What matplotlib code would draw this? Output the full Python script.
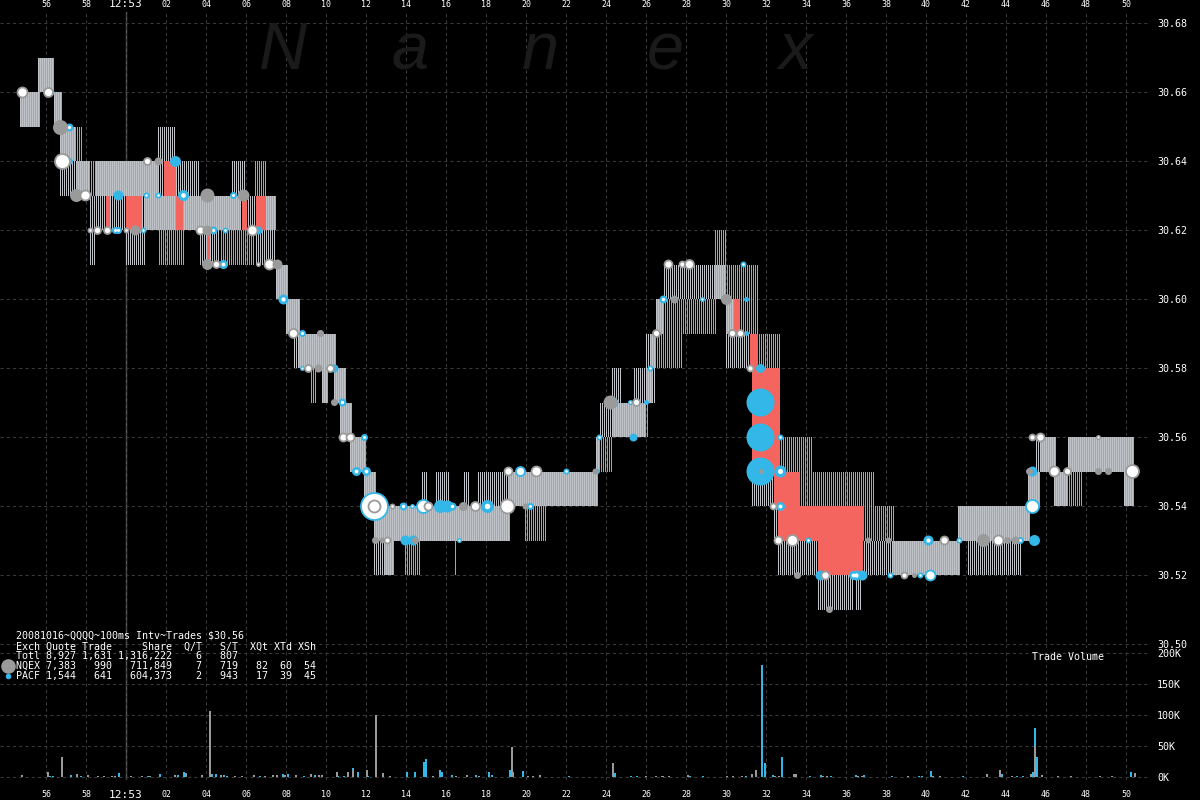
import numpy as np
import matplotlib
matplotlib.use("Agg")
import matplotlib.pyplot as plt
from matplotlib.colors import to_rgba

plt.rcParams['font.family'] = ['DejaVu Sans Mono']

# time is seconds relative to 12:53:00, prices in dollars
time_ticks = list(range(-4, 51, 2))
time_labels = ["56", "58", "12:53", "02", "04", "06", "08", "10", "12", "14", "16", "18", "20",
               "22", "24", "26", "28", "30", "32", "34", "36", "38", "40", "42", "44", "46", "48", "50"]
price_ticks = [30.50, 30.52, 30.54, 30.56, 30.58, 30.60, 30.62, 30.64, 30.66, 30.68]
vol_ticks = [0, 50000, 100000, 150000, 200000]
vol_labels = ["0K", "50K", "100K", "150K", "200K"]

# quote spreads per exchange: (start s, end s, bid, ask)
nqex_quotes = [
    (-5.3, -4.3, 30.65, 30.66), (-4.4, -3.6, 30.66, 30.67), (-3.6, -3.2, 30.65, 30.66),
    (-3.3, -2.5, 30.63, 30.65), (-2.5, -1.8, 30.63, 30.64), (-1.8, -1.5, 30.61, 30.63),
    (-1.5, 0.0, 30.62, 30.64), (0.0, 0.95, 30.61, 30.64), (0.95, 1.6, 30.62, 30.64),
    (1.6, 2.45, 30.62, 30.65), (2.45, 3.7, 30.62, 30.64), (3.7, 4.7, 30.61, 30.63),
    (4.7, 5.3, 30.62, 30.63), (5.3, 5.95, 30.62, 30.64), (5.95, 6.5, 30.62, 30.63),
    (6.5, 7.5, 30.61, 30.63), (7.5, 8.1, 30.60, 30.61), (8.0, 8.4, 30.59, 30.60),
    (8.4, 8.7, 30.58, 30.60), (8.7, 10.5, 30.58, 30.59), (9.8, 10.1, 30.57, 30.58),
    (10.4, 11.0, 30.57, 30.58), (10.7, 11.3, 30.56, 30.57), (11.2, 12.0, 30.55, 30.56),
    (11.9, 12.5, 30.54, 30.55), (12.4, 13.4, 30.52, 30.54), (13.4, 19.2, 30.53, 30.54),
    (14.8, 15.1, 30.54, 30.55), (15.5, 16.2, 30.54, 30.55), (16.9, 17.2, 30.54, 30.55),
    (17.6, 19.2, 30.54, 30.55), (19.1, 23.6, 30.54, 30.55), (23.5, 23.7, 30.55, 30.56),
    (23.7, 24.3, 30.56, 30.57), (24.3, 24.8, 30.56, 30.58), (24.8, 25.4, 30.56, 30.57),
    (25.4, 26.0, 30.56, 30.58), (26.0, 26.5, 30.57, 30.59), (26.5, 26.9, 30.59, 30.60),
    (26.9, 29.5, 30.60, 30.61), (29.5, 30.0, 30.60, 30.61), (30.0, 30.4, 30.58, 30.60),
    (30.4, 31.3, 30.58, 30.59), (31.3, 32.4, 30.54, 30.55), (32.4, 32.6, 30.53, 30.54),
    (32.6, 34.6, 30.52, 30.53), (34.6, 36.4, 30.51, 30.52), (36.4, 38.3, 30.52, 30.53),
    (36.5, 36.8, 30.51, 30.52), (38.3, 41.7, 30.52, 30.53), (41.6, 45.2, 30.53, 30.54),
    (42.1, 44.8, 30.52, 30.53), (45.1, 45.7, 30.54, 30.55), (45.45, 45.7, 30.55, 30.56),
    (45.7, 46.5, 30.55, 30.56), (46.4, 47.1, 30.54, 30.55), (47.1, 50.4, 30.55, 30.56),
    (49.9, 50.4, 30.54, 30.55),
]
pacf_quotes = [
    (-5.3, -4.3, 30.65, 30.66), (-4.4, -3.6, 30.66, 30.67), (-3.6, -3.2, 30.65, 30.66),
    (-3.3, -2.2, 30.64, 30.65), (-2.5, 0.9, 30.63, 30.64), (0.9, 1.6, 30.62, 30.64),
    (1.6, 2.9, 30.61, 30.63), (2.9, 4.7, 30.62, 30.63), (4.7, 5.7, 30.61, 30.63),
    (5.7, 6.4, 30.61, 30.62), (6.4, 7.0, 30.63, 30.64), (7.0, 7.5, 30.62, 30.63),
    (7.5, 8.1, 30.60, 30.61), (8.0, 8.7, 30.59, 30.60), (8.6, 10.5, 30.58, 30.59),
    (9.2, 9.5, 30.57, 30.58), (9.8, 10.1, 30.57, 30.58), (10.4, 11.0, 30.57, 30.58),
    (10.7, 11.3, 30.56, 30.57), (11.2, 12.0, 30.55, 30.56), (11.9, 12.5, 30.54, 30.55),
    (12.4, 19.2, 30.53, 30.54), (12.9, 13.4, 30.52, 30.53), (13.95, 14.7, 30.52, 30.53),
    (16.4, 16.5, 30.52, 30.53), (19.1, 23.6, 30.54, 30.55), (19.95, 21.0, 30.53, 30.54),
    (23.5, 24.3, 30.55, 30.56), (24.3, 26.1, 30.56, 30.57), (26.0, 26.3, 30.57, 30.58),
    (26.2, 27.8, 30.58, 30.59), (26.5, 29.5, 30.59, 30.60), (29.45, 30.05, 30.60, 30.62),
    (30.05, 31.6, 30.59, 30.61), (31.6, 32.7, 30.58, 30.59), (32.7, 34.3, 30.55, 30.56),
    (33.7, 37.4, 30.54, 30.55), (36.9, 38.4, 30.53, 30.54), (38.3, 41.7, 30.52, 30.53),
    (41.6, 45.2, 30.53, 30.54), (45.1, 45.7, 30.54, 30.55), (45.7, 46.5, 30.55, 30.56),
    (46.4, 47.8, 30.54, 30.55), (47.1, 50.4, 30.55, 30.56), (49.9, 50.4, 30.54, 30.55),
]
# crossed-market gaps (red): (start, end, low, high)
crossed = [
    (-1.0, -0.8, 30.62, 30.63), (0.0, 0.8, 30.62, 30.63), (1.9, 2.5, 30.63, 30.64),
    (2.5, 2.85, 30.62, 30.63), (4.05, 4.2, 30.61, 30.62), (5.8, 6.05, 30.62, 30.63),
    (6.5, 7.0, 30.62, 30.63), (30.4, 30.7, 30.59, 30.60), (31.2, 31.6, 30.58, 30.59),
    (31.3, 32.7, 30.55, 30.58), (32.4, 33.7, 30.54, 30.55), (32.6, 36.9, 30.53, 30.54),
    (34.6, 36.85, 30.52, 30.53),
]

# trades: (time, price, dot size px, style) style: s=solid, c=white centre, r=white ring
nqex_trades = [
    (-5.22, 30.66, 10, 'r'), (-3.88, 30.66, 9, 'r'), (-3.3, 30.65, 15, 's'), (-3.22, 30.64, 15, 'r'),
    (-2.5, 30.63, 13, 's'), (-2.05, 30.63, 10, 'r'), (-1.8, 30.62, 6, 'c'), (-1.47, 30.62, 7, 'r'),
    (-0.97, 30.62, 7, 'r'), (0.0, 30.62, 6, 'c'), (0.45, 30.62, 10, 's'), (1.03, 30.64, 7, 'r'),
    (1.62, 30.64, 8, 's'), (4.07, 30.63, 14, 's'), (5.87, 30.63, 12, 's'), (3.7, 30.62, 8, 'r'),
    (4.07, 30.62, 10, 's'), (6.28, 30.62, 10, 'r'), (4.07, 30.61, 11, 's'), (4.5, 30.61, 7, 'r'),
    (6.62, 30.61, 5, 'c'), (7.17, 30.61, 10, 'r'), (7.53, 30.61, 10, 's'), (8.37, 30.59, 9, 'r'),
    (9.7, 30.59, 7, 's'), (9.12, 30.58, 7, 'r'), (9.62, 30.58, 8, 's'), (10.2, 30.58, 7, 'r'),
    (10.4, 30.57, 7, 's'), (10.87, 30.56, 8, 'r'), (11.2, 30.56, 8, 'r'), (12.4, 30.54, 12, 'r'),
    (13.28, 30.54, 6, 'c'), (15.12, 30.54, 8, 'r'), (16.87, 30.54, 9, 's'), (17.45, 30.54, 9, 'r'),
    (19.03, 30.54, 14, 'r'), (19.95, 30.54, 6, 's'), (12.45, 30.53, 7, 's'), (12.78, 30.53, 6, 's'),
    (13.03, 30.53, 6, 'r'), (14.45, 30.53, 7, 's'), (19.12, 30.55, 8, 'r'), (20.5, 30.55, 10, 'r'),
    (23.45, 30.55, 6, 's'), (24.2, 30.57, 14, 's'), (25.5, 30.57, 7, 'r'), (26.5, 30.59, 7, 'r'),
    (27.4, 30.60, 8, 's'), (30.0, 30.60, 11, 's'), (27.12, 30.61, 8, 'r'), (27.78, 30.61, 6, 'r'),
    (28.17, 30.61, 9, 'r'), (30.28, 30.59, 7, 'r'), (30.7, 30.59, 7, 'r'), (31.2, 30.58, 6, 'r'),
    (31.75, 30.55, 5, 's'), (32.37, 30.54, 6, 'r'), (32.62, 30.53, 8, 'r'), (33.28, 30.53, 11, 'r'),
    (37.12, 30.53, 6, 's'), (33.57, 30.52, 7, 's'), (34.95, 30.52, 8, 'r'), (35.17, 30.51, 7, 's'),
    (38.12, 30.53, 6, 's'), (38.9, 30.52, 6, 'r'), (39.4, 30.52, 5, 's'), (40.9, 30.53, 8, 'r'),
    (42.87, 30.53, 13, 's'), (43.62, 30.53, 10, 'r'), (44.03, 30.53, 7, 's'), (44.45, 30.53, 8, 's'),
    (45.15, 30.55, 7, 's'), (46.4, 30.55, 10, 'r'), (47.07, 30.55, 7, 'r'), (45.28, 30.56, 6, 'r'),
    (45.7, 30.56, 8, 'r'), (48.58, 30.56, 5, 'c'), (48.58, 30.55, 7, 's'), (49.12, 30.55, 7, 's'),
    (50.28, 30.55, 13, 'r'),
]
pacf_trades = [
    (-3.77, 30.66, 6, 'c'), (-2.83, 30.65, 8, 'c'), (-2.83, 30.64, 7, 'c'), (-0.55, 30.62, 7, 'c'),
    (-0.38, 30.62, 7, 'c'), (0.87, 30.62, 6, 'c'), (2.45, 30.64, 11, 's'), (-0.38, 30.63, 10, 's'),
    (1.0, 30.63, 6, 'c'), (1.62, 30.63, 6, 'c'), (2.87, 30.63, 11, 'c'), (5.37, 30.63, 7, 'c'),
    (4.37, 30.62, 8, 'c'), (4.95, 30.62, 6, 'c'), (6.62, 30.62, 8, 's'), (4.87, 30.61, 9, 'c'),
    (7.87, 30.60, 10, 'c'), (8.78, 30.59, 7, 'c'), (8.78, 30.58, 5, 'c'), (10.4, 30.58, 8, 's'),
    (10.78, 30.57, 8, 'c'), (11.9, 30.56, 7, 'c'), (11.5, 30.55, 9, 'c'), (12.0, 30.55, 9, 'c'),
    (12.4, 30.54, 27, 'r'), (13.87, 30.54, 8, 'c'), (14.28, 30.54, 5, 'c'), (14.83, 30.54, 13, 'r'),
    (15.7, 30.54, 13, 's'), (16.03, 30.54, 12, 's'), (16.28, 30.54, 8, 'c'), (18.03, 30.54, 13, 'c'),
    (20.2, 30.54, 7, 'c'), (13.95, 30.53, 10, 's'), (14.37, 30.53, 10, 's'), (16.67, 30.53, 5, 'c'),
    (19.7, 30.55, 9, 'r'), (22.0, 30.55, 6, 'c'), (23.67, 30.56, 6, 'c'), (23.57, 30.55, 5, 's'),
    (24.37, 30.57, 10, 's'), (25.2, 30.57, 5, 'c'), (26.0, 30.57, 5, 's'), (25.33, 30.56, 8, 's'),
    (26.2, 30.58, 6, 'c'), (26.87, 30.60, 8, 'c'), (28.78, 30.60, 5, 'c'), (30.98, 30.60, 5, 's'),
    (30.87, 30.61, 6, 'c'), (30.98, 30.59, 5, 's'), (31.7, 30.58, 9, 's'), (31.7, 30.57, 28, 's'),
    (31.7, 30.56, 28, 's'), (31.7, 30.55, 28, 's'), (32.7, 30.56, 6, 'c'), (32.7, 30.55, 12, 'c'),
    (32.7, 30.54, 9, 'c'), (34.12, 30.53, 6, 'c'), (34.7, 30.52, 10, 's'), (36.37, 30.52, 9, 'c'),
    (36.78, 30.52, 10, 's'), (36.5, 30.52, 10, 'c'), (38.2, 30.52, 6, 'c'), (39.7, 30.52, 6, 'c'),
    (40.2, 30.52, 10, 'r'), (40.08, 30.53, 10, 'c'), (41.67, 30.53, 6, 'c'), (44.7, 30.53, 7, 'c'),
    (45.4, 30.53, 11, 's'), (45.28, 30.54, 13, 'r'), (45.28, 30.55, 10, 's'),
]

# trade volume per 100ms interval
nqex_vol_t = [-5.2, -3.9, -3.22, -2.45, -1.92, -1.4, -1.1, -0.72, -0.53, 0.24, 0.82, 1.2, 2.45, 2.99,
              3.8, 4.18, 4.76, 5.05, 5.43, 5.82, 6.39, 6.97, 7.35, 7.55, 7.93, 8.5, 9.24, 9.66, 9.82,
              10.53, 11.1, 11.35, 12.03, 12.51, 12.83, 13.22, 15.33, 16.49, 17.07, 17.64, 19.28, 19.37,
              20.08, 20.33, 20.68, 24.33, 26.0, 26.49, 26.87, 27.16, 28.12, 30.05, 30.33, 30.82, 31.3,
              31.49, 32.45, 32.64, 33.41, 33.51, 34.85, 35.05, 36.58, 36.78, 39.08, 40.33, 40.72, 43.03,
              43.7, 44.28, 45.24, 45.43, 45.78, 46.58, 47.26, 48.7, 49.28, 50.43]
nqex_vol = [2700, 7500, 32000, 4800, 3200, 1600, 1100, 1100, 1100, 1100, 2200, 1600, 3800, 6500,
            3200, 106000, 2700, 1600, 1100, 1100, 3200, 1600, 2700, 3800, 3200, 3200, 5400, 3800, 3800,
            7500, 8100, 10800, 11800, 100000, 6500, 2200, 1100, 1600, 3200, 2200, 48000, 7500,
            1100, 1100, 3200, 22000, 1100, 2200, 1600, 1100, 3200, 1600, 1600, 1600, 4300,
            11800, 1600, 2200, 5400, 4300, 1600, 1600, 1100, 1600, 1100, 1600, 1100, 5400,
            11800, 1600, 4300, 50000, 3200, 1600, 2200, 1100, 1100, 7000]
pacf_vol_t = [-3.8, -3.67, -2.74, -2.26, -0.34, 1.1, 1.68, 2.58, 2.89, 4.28, 4.51, 4.89, 6.68, 7.83,
              8.08, 8.89, 9.47, 10.62, 10.91, 11.33, 11.58, 12.12, 14.05, 14.43, 14.9, 15.0, 15.72,
              15.82, 16.3, 17.49, 18.16, 18.32, 19.18, 19.85, 22.16, 24.43, 25.24, 25.53, 26.78, 28.22,
              28.85, 31.0, 31.78, 31.97, 32.35, 32.78, 34.18, 34.76, 35.24, 36.49, 36.89, 38.32, 39.66,
              39.82, 40.24, 41.87, 43.82, 44.57, 44.85, 45.33, 45.43, 45.53, 50.24]
pacf_vol = [1600, 1100, 2700, 1600, 6500, 1600, 4800, 2700, 7500, 4800, 4300, 3200, 2200, 4800,
            4300, 1100, 3800, 1100, 1600, 14500, 7500, 2200, 7500, 7500, 25000, 29000, 11800,
            7500, 3200, 3200, 7500, 2700, 11800, 9700, 1100, 6500, 1100, 1100, 2200, 1100,
            1100, 1100, 180000, 22000, 3200, 33000, 1100, 3200, 1100, 3200, 3200, 1100, 1100,
            1100, 9700, 1100, 4300, 1100, 1600, 7500, 79000, 32000, 8000]

title_line = "20081016~QQQQ~100ms Intv~Trades $30.56"
stats_lines = [
    "Exch Quote Trade     Share  Q/T   S/T  XQt XTd XSh",
    "Totl 8,927 1,631 1,316,222    6   807",
    "NQEX 7,383   990   711,849    7   719   82  60  54",
    "PACF 1,544   641   604,373    2   943   17  39  45",
]

GRAY = '#c0c4c8'
BLUE = '#50c4ee'
RED = '#f46560'
T_GRAY = '#9a9a9a'
T_BLUE = '#33b7e8'
GRID = '#3a3a3a'
W, H = 1200, 800
T0, T1 = -6.3, 51.2      # visible time range
P0, P1 = 30.50, 30.68    # price range of the quote raster
STEP_T, STEP_P = 0.05, 0.01

fig = plt.figure(figsize=(12, 8), dpi=100, facecolor='black')
ax = fig.add_axes([0, 1 - 648 / H, 1150 / W, 636 / H])
axv = fig.add_axes([0, 1 - 780 / H, 1150 / W, 130 / H])

for a in (ax, axv):
    a.set_facecolor('black')
    a.set_xlim(T0, T1)
    for s in a.spines.values():
        s.set_visible(False)
    a.grid(True, color=GRID, linestyle=(0, (3, 3)), linewidth=0.75)
    a.set_axisbelow(True)
    a.axvline(0, color='#5c5c5c', lw=1, zorder=0.5)
    a.yaxis.tick_right()
    a.tick_params(axis='y', length=0, pad=5, labelcolor='white', labelsize=7.2)
    a.set_xticks(time_ticks)
    a.tick_params(axis='x', length=0, labelcolor='white', labelsize=6)

ax.set_ylim(30.4988, 30.6832)
ax.set_yticks(price_ticks)
ax.set_yticklabels([f"{p:.2f}" for p in price_ticks])
ax.xaxis.tick_top()
ax.set_xticklabels(time_labels)
ax.tick_params(axis='x', pad=2)

axv.set_ylim(-4800, 204800)
axv.set_yticks(vol_ticks)
axv.set_yticklabels(vol_labels)
axv.set_xticklabels(time_labels)
axv.tick_params(axis='x', pad=7)
for a in (ax, axv):
    for lbl in a.get_xticklabels():
        if lbl.get_text() == "12:53":
            lbl.set_fontsize(8)

# watermark
for ch, xp in zip("Nanex", [283, 410, 540, 665, 795]):
    fig.text(xp / W, 1 - 52 / H, ch, color='#1a1a1a', fontsize=48, style='italic',
             family='Liberation Sans', ha='center', va='center', zorder=0)

# quote raster: one column per half interval (gray on even, blue on odd), one row per cent
ncol = int(round((T1 - T0) / STEP_T))
nrow = int(round((P1 - P0) / STEP_P))
img = np.zeros((nrow, ncol, 4))


def col(t):
    return int(round((t - T0) / STEP_T))


def row(p):
    return int(round((p - P0) / STEP_P))


def paint(quotes, color, parity):
    for t0, t1, bid, ask in quotes:
        c0, c1 = col(t0), col(t1)
        cols = [c for c in range(c0, c1) if c % 2 == parity]
        img[row(bid):row(ask), cols] = to_rgba(color)


paint(nqex_quotes, GRAY, 0)
paint(pacf_quotes, BLUE, 1)
for t0, t1, lo, hi in crossed:
    img[row(lo):row(hi), col(t0):col(t1)] = to_rgba(RED)

ax.imshow(img, extent=(T0, T1, P0, P1), origin='lower', interpolation='nearest',
          aspect='auto', zorder=2)
ax.set_xlim(T0, T1)
ax.set_ylim(30.4988, 30.6832)


def trades(items, color, z):
    for t, p, d, style in items:
        s = (d * 0.72) ** 2
        if style == 'r':
            ax.scatter(t, p, s=s, facecolor='white', edgecolor=color, linewidths=1.3, zorder=z)
        else:
            ax.scatter(t, p, s=s, color=color, linewidths=0, zorder=z)
            if style == 'c':
                ax.scatter(t, p, s=s * 0.18, color='white', linewidths=0, zorder=z + 0.05)


trades(pacf_trades, T_BLUE, 4)
trades(nqex_trades, T_GRAY, 4.2)

axv.bar(pacf_vol_t, pacf_vol, width=0.1, color=T_BLUE, linewidth=0, zorder=2)
axv.bar(nqex_vol_t, nqex_vol, width=0.1, color=T_GRAY, linewidth=0, zorder=2.1)

# stats block
fig.text(16 / W, 1 - 636 / H, title_line, color='white', fontsize=7.2, va='center')
for i, line in enumerate(stats_lines):
    fig.text(16 / W, 1 - (646.5 + i * 9.7) / H, line, color='white', fontsize=7.2, va='center')
axv.plot([8 / W], [1 - 666 / H], 'o', ms=9.5, color=T_GRAY, transform=fig.transFigure, clip_on=False)
axv.plot([8 / W], [1 - 676 / H], 'o', ms=3, color=T_BLUE, transform=fig.transFigure, clip_on=False)
fig.text(1032 / W, 1 - 657 / H, "Trade Volume", color='white', fontsize=7.2, va='center')

fig.savefig("out.png", dpi=100, facecolor='black')
